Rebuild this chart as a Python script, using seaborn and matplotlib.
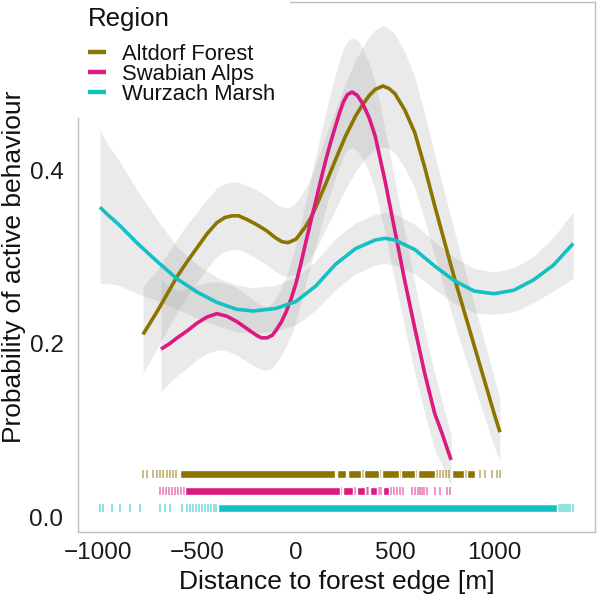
import pandas as pd
import matplotlib
matplotlib.use("Agg")
import matplotlib.pyplot as plt
import seaborn as sns

regions = ["Altdorf Forest", "Swabian Alps", "Wurzach Marsh"]
colors = ["#8B7500", "#DA1A80", "#14C0C4"]

# fitted curves (distance, probability, lower CI, upper CI)
altdorf_x = [-773, -740, -700, -650, -600, -550, -500, -450, -400, -360, -323, -290, -250, -200, -150, -100, -70, -40, 0, 20, 50, 75, 100, 150, 200, 250, 300, 338, 370, 400, 439, 470, 500, 550, 600, 650, 700, 750, 800, 850, 900, 950, 1000, 1030]
altdorf_y = [0.211, 0.223, 0.238, 0.258, 0.278, 0.295, 0.311, 0.327, 0.340, 0.346, 0.348, 0.348, 0.344, 0.338, 0.331, 0.322, 0.318, 0.317, 0.321, 0.327, 0.336, 0.346, 0.358, 0.385, 0.413, 0.440, 0.463, 0.477, 0.487, 0.494, 0.498, 0.495, 0.489, 0.470, 0.444, 0.404, 0.360, 0.318, 0.276, 0.237, 0.198, 0.159, 0.120, 0.098]
altdorf_lo = [0.166, 0.179, 0.195, 0.216, 0.237, 0.255, 0.271, 0.287, 0.301, 0.307, 0.309, 0.309, 0.305, 0.299, 0.292, 0.283, 0.279, 0.278, 0.280, 0.285, 0.292, 0.300, 0.309, 0.332, 0.356, 0.379, 0.399, 0.411, 0.419, 0.425, 0.428, 0.426, 0.420, 0.403, 0.380, 0.343, 0.302, 0.263, 0.224, 0.188, 0.152, 0.117, 0.082, 0.064]
altdorf_hi = [0.266, 0.275, 0.286, 0.304, 0.322, 0.338, 0.352, 0.367, 0.380, 0.385, 0.387, 0.387, 0.383, 0.378, 0.371, 0.362, 0.358, 0.357, 0.363, 0.370, 0.381, 0.393, 0.408, 0.440, 0.471, 0.501, 0.528, 0.543, 0.555, 0.563, 0.568, 0.564, 0.558, 0.537, 0.508, 0.466, 0.419, 0.375, 0.330, 0.288, 0.246, 0.204, 0.162, 0.135]

swabian_x = [-682, -640, -600, -550, -500, -450, -399, -350, -300, -250, -200, -175, -146, -120, -100, -75, -50, -25, 0, 25, 50, 75, 100, 125, 150, 175, 200, 220, 240, 260, 283, 310, 338, 370, 400, 450, 500, 550, 600, 650, 700, 740, 783]
swabian_y = [0.194, 0.200, 0.207, 0.215, 0.224, 0.231, 0.235, 0.232, 0.226, 0.218, 0.210, 0.207, 0.207, 0.210, 0.216, 0.225, 0.237, 0.252, 0.270, 0.293, 0.318, 0.342, 0.365, 0.389, 0.412, 0.433, 0.452, 0.467, 0.480, 0.488, 0.491, 0.487, 0.477, 0.461, 0.440, 0.388, 0.330, 0.272, 0.218, 0.166, 0.120, 0.095, 0.066]
swabian_lo = [0.145, 0.155, 0.163, 0.172, 0.182, 0.189, 0.193, 0.192, 0.187, 0.180, 0.173, 0.170, 0.170, 0.172, 0.178, 0.186, 0.197, 0.210, 0.226, 0.247, 0.270, 0.292, 0.313, 0.335, 0.356, 0.375, 0.392, 0.405, 0.417, 0.424, 0.427, 0.423, 0.413, 0.398, 0.378, 0.328, 0.272, 0.218, 0.166, 0.120, 0.078, 0.058, 0.036]
swabian_hi = [0.274, 0.266, 0.262, 0.264, 0.268, 0.271, 0.272, 0.270, 0.265, 0.257, 0.248, 0.245, 0.243, 0.247, 0.254, 0.265, 0.278, 0.295, 0.314, 0.340, 0.366, 0.392, 0.417, 0.443, 0.467, 0.491, 0.512, 0.528, 0.542, 0.550, 0.554, 0.551, 0.541, 0.524, 0.502, 0.448, 0.388, 0.328, 0.270, 0.216, 0.166, 0.132, 0.095]

wurzach_x = [-990, -950, -900, -800, -700, -600, -500, -400, -300, -217, -100, 0, 100, 200, 300, 400, 449, 500, 600, 700, 800, 900, 1000, 1100, 1200, 1300, 1400]
wurzach_y = [0.358, 0.349, 0.339, 0.316, 0.295, 0.275, 0.260, 0.248, 0.240, 0.238, 0.241, 0.249, 0.267, 0.292, 0.310, 0.320, 0.322, 0.320, 0.309, 0.290, 0.273, 0.261, 0.258, 0.262, 0.274, 0.291, 0.316]
wurzach_lo = [0.270, 0.270, 0.268, 0.258, 0.250, 0.240, 0.230, 0.221, 0.214, 0.212, 0.215, 0.222, 0.239, 0.263, 0.281, 0.291, 0.293, 0.291, 0.281, 0.263, 0.247, 0.236, 0.234, 0.237, 0.248, 0.261, 0.276]
wurzach_hi = [0.447, 0.430, 0.414, 0.377, 0.343, 0.312, 0.292, 0.277, 0.268, 0.265, 0.268, 0.277, 0.296, 0.322, 0.340, 0.350, 0.352, 0.350, 0.338, 0.318, 0.300, 0.287, 0.283, 0.288, 0.301, 0.323, 0.353]

# observation rugs: single ticks and densely packed stretches
altdorf_rug_ticks = [-773, -753, -722, -702, -687, -672, -652, -636, -621, -606, 255, 338, 425, 525, 607, 710, 725, 742, 760, 775, 857, 929, 955, 988, 1014, 1030]
altdorf_rug_solid = [(-586, 197), (205, 250), (262, 330), (345, 420), (432, 520), (530, 600), (615, 700), (790, 850), (862, 904)]
swabian_rug_ticks = [-687, -672, -657, -641, -626, -611, -596, -581, -566, 228, 300, 360, 365, 420, 430, 480, 495, 510, 525, 540, 586, 601, 616, 626, 637, 647, 662, 702, 727, 763, 778]
swabian_rug_solid = [(-561, 222), (235, 290), (310, 350), (375, 410), (440, 470)]
wurzach_rug_ticks = [-990, -973, -931, -889, -838, -788, -687, -662, -636, -577, -552, -535, -520, -505, -490, -475, -460, -445, -430, -415, -405, 1325, 1335, 1345, 1355, 1365, 1375, 1385, 1399]
wurzach_rug_solid = [(-394, 1318)]
rug_levels = [0.05, 0.03, 0.01]

x_ticks = [-1000, -500, 0, 500, 1000]
x_labels = ["\u22121000", "\u2212500", "0", "500", "1000"]
y_ticks = [0.0, 0.2, 0.4]
y_labels = ["0.0", "0.2", "0.4"]

curves = {
    "Altdorf Forest": (altdorf_x, altdorf_y, altdorf_lo, altdorf_hi),
    "Swabian Alps": (swabian_x, swabian_y, swabian_lo, swabian_hi),
    "Wurzach Marsh": (wurzach_x, wurzach_y, wurzach_lo, wurzach_hi),
}
rugs = {
    "Altdorf Forest": (altdorf_rug_ticks, altdorf_rug_solid),
    "Swabian Alps": (swabian_rug_ticks, swabian_rug_solid),
    "Wurzach Marsh": (wurzach_rug_ticks, wurzach_rug_solid),
}

frames = []
for reg in regions:
    xs, ys, lo, hi = curves[reg]
    frames.append(pd.DataFrame({"dist": xs, "prob": ys, "lo": lo, "hi": hi, "Region": reg}))
df = pd.concat(frames, ignore_index=True)

sns.set_theme(style="white")
plt.rcParams['font.family'] = ['Liberation Sans', 'DejaVu Sans']

fig = plt.figure(figsize=(5.98, 6.0), dpi=100)
ax = fig.add_axes([78 / 598, 68 / 600, 517 / 598, 530 / 600])

# confidence ribbons
for reg in regions:
    d = df[df["Region"] == reg]
    ax.fill_between(d["dist"], d["lo"], d["hi"], color="#999999", alpha=0.2, linewidth=0, zorder=1)

palette = dict(zip(regions, colors))
sns.lineplot(data=df, x="dist", y="prob", hue="Region", hue_order=regions, palette=palette,
             estimator=None, sort=False, linewidth=2.6, ax=ax, zorder=3)
for ln in ax.get_lines():
    ln.set_solid_capstyle("butt")
    ln.set_solid_joinstyle("round")

# rugs
h = 0.0045
for reg, col, lev in zip(regions, colors, rug_levels):
    ticks, solid = rugs[reg]
    ax.vlines(ticks, lev - h, lev + h, colors=col, linewidth=1.2, alpha=0.55, zorder=2)
    ax.broken_barh([(a, b - a) for a, b in solid], (lev - h, 2 * h), facecolors=col, zorder=2)

ax.set_xlim(-1101, 1510)
ax.set_ylim(-0.0173, 0.595)
ax.set_xticks(x_ticks)
ax.set_yticks(y_ticks)
ax.set_xticklabels(x_labels)
ax.set_yticklabels(y_labels)

for sp in ax.spines.values():
    sp.set_color("#BDBDBD")
    sp.set_linewidth(1.0)
ax.spines["left"].set_bounds(-0.0173, 0.461)
ax.spines["top"].set_bounds(-30, 1510)

ax.tick_params(axis="both", which="both", direction="out", length=5, width=0.8,
               color="#BDBDBD", labelcolor="#1a1a1a", labelsize=17.5)
ax.tick_params(axis="x", pad=2)
ax.tick_params(axis="y", pad=5.5)

ax.set_xlabel("Distance to forest edge [m]", fontsize=19, color="#111111")
ax.set_ylabel("Probability of active behaviour", fontsize=19, color="#111111")
ax.xaxis.set_label_coords(0.5, -0.0726)
ax.yaxis.set_label_coords(-0.1006, 0.5)

old = ax.get_legend()
handles = old.legend_handles
labels = [t.get_text() for t in old.get_texts()]
old.remove()
for hd in handles:
    hd.set_linewidth(3.2)
    hd.set_solid_capstyle("butt")
leg = ax.legend(handles, labels, loc="upper left",
                bbox_to_anchor=(88 / 598, 1 - 44 / 600), bbox_transform=fig.transFigure,
                frameon=False, fontsize=15.8, handlelength=0.82,
                handletextpad=0.72, labelspacing=-0.05, borderpad=0, borderaxespad=0)
for t in leg.get_texts():
    t.set_color("#111111")
fig.text(88 / 598, 1 - 26 / 600, "Region", fontsize=18.6, color="#111111",
         ha="left", va="baseline")

fig.savefig("out.png", dpi=100)
